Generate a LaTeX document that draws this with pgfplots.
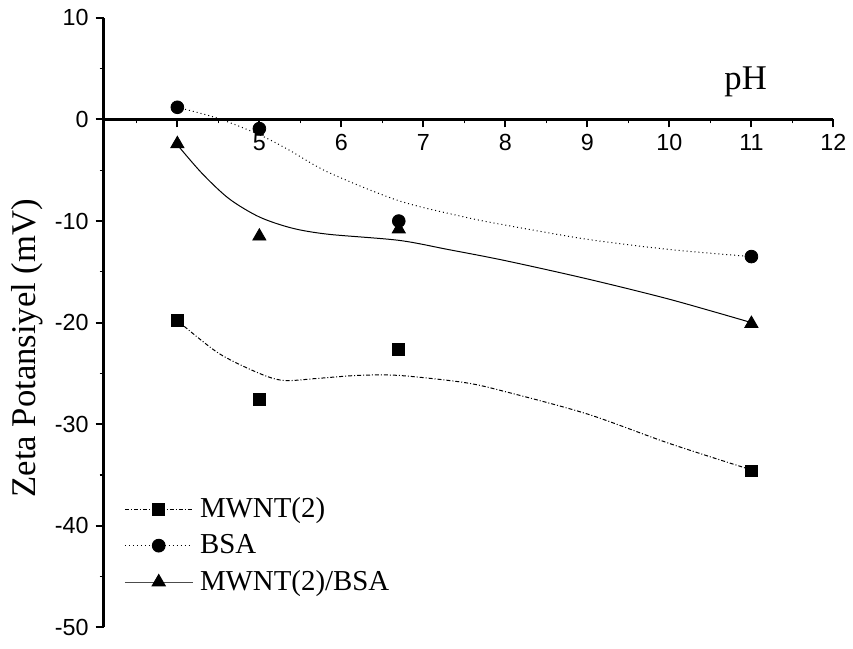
\documentclass[border=0pt]{standalone}
\usepackage{fontspec}
\setmainfont{Liberation Serif}
\newfontfamily\arial{Liberation Sans}
\usepackage{pgfplots}
\pgfplotsset{compat=1.18}
\begin{document}
\begin{tikzpicture}
\begin{axis}[name=ax, scale only axis, width=366.5pt, height=306pt,
 xmin=3.1, xmax=12, ymin=-50, ymax=10,
 axis x line*=middle, axis y line*=left,
 axis line style={line width=1.2pt},
 xtick={4,...,12}, xticklabels={,5,6,7,8,9,10,11,12},
 minor xtick={3.5,4.5,...,11.5},
 ytick={-50,-40,...,10}, yticklabels={-50,-40,-30,-20,-10,0,10},
 minor ytick={-45,-35,...,5},
 tick align=outside, major tick length=4pt, minor tick length=2pt,
 tick style={black, line width=1pt}, minor tick style={line width=0.6pt},
 ticklabel style={font=\arial\fontsize{11.7}{14}\selectfont},
 ylabel={Zeta Potansiyel (mV)},
 ylabel style={font=\fontsize{17.4}{20}\selectfont, at={(axis description cs:-0.104,0.458)}, anchor=center},
 clip=false,
 legend style={at={(axis description cs:0.028,0.22)}, anchor=north west, draw=none, fill=none,
   font=\fontsize{14.5}{17}\selectfont, row sep=3pt, inner sep=0pt,
   /tikz/every odd column/.append style={column sep=1.5pt}},
 legend cell align=left,
 legend image code/.code={\draw[mark repeat=2,mark phase=2] plot coordinates {(0pt,0pt) (17pt,0pt) (34pt,0pt)};},
]
\addlegendimage{black, line width=0.5pt, dash pattern=on 2pt off 1pt on 0.5pt off 1pt, mark=square*, mark size=3pt, mark options={solid}}
\addlegendentry{MWNT(2)}
\addlegendimage{black, line width=0.5pt, dash pattern=on 0.5pt off 1.5pt, mark=*, mark size=3.2pt, mark options={solid}}
\addlegendentry{BSA}
\addlegendimage{black!70, line width=0.5pt, mark=triangle*, mark size=3.8pt, mark options={solid,black}}
\addlegendentry{MWNT(2)/BSA}

% fitted curves
\addplot[black, line width=0.5pt, dash pattern=on 2pt off 1pt on 0.5pt off 1pt, smooth, forget plot] coordinates {
(4,-19.8) (4.5,-23.0) (5,-25.0) (5.3,-25.7) (5.7,-25.5) (6.2,-25.2) (6.7,-25.2) (7.5,-25.9) (8,-26.8) (9,-29.0) (10,-31.9) (11,-34.5)};
\addplot[black, line width=0.5pt, dash pattern=on 0.5pt off 1.5pt, smooth, forget plot] coordinates {
(4,1.2) (4.5,0.1) (5,-1.5) (5.36,-3.0) (5.84,-5.2) (6.7,-8.0) (7.5,-9.6) (8,-10.4) (9,-11.8) (10,-12.8) (11,-13.5)};
\addplot[black, line width=0.5pt, smooth, forget plot] coordinates {
(4,-2.5) (4.3,-5.3) (4.63,-7.8) (5,-9.6) (5.4,-10.7) (5.84,-11.3) (6.7,-11.9) (7.3,-12.8) (8,-13.9) (9,-15.7) (10,-17.7) (11,-20.0)};

% data points
\addplot[only marks, mark=square*, mark size=3pt, black, forget plot] coordinates {(4,-19.8) (5,-27.6) (6.7,-22.6) (11,-34.6)};
\addplot[only marks, mark=*, mark size=3.2pt, black, forget plot] coordinates {(4,1.2) (5,-0.9) (6.7,-10.0) (11,-13.5)};
\addplot[only marks, mark=triangle*, mark size=3.8pt, black, forget plot] coordinates {(4,-2.4) (5,-11.5) (6.7,-10.8) (11,-20.1)};

\node[font=\fontsize{17.4}{20}\selectfont] at (axis cs:10.93,3.7) {pH};
\end{axis}
\path (ax.south west) +(-52pt,-10.5pt);
\path (ax.north east) +(8pt,9pt);
\end{tikzpicture}
\end{document}
